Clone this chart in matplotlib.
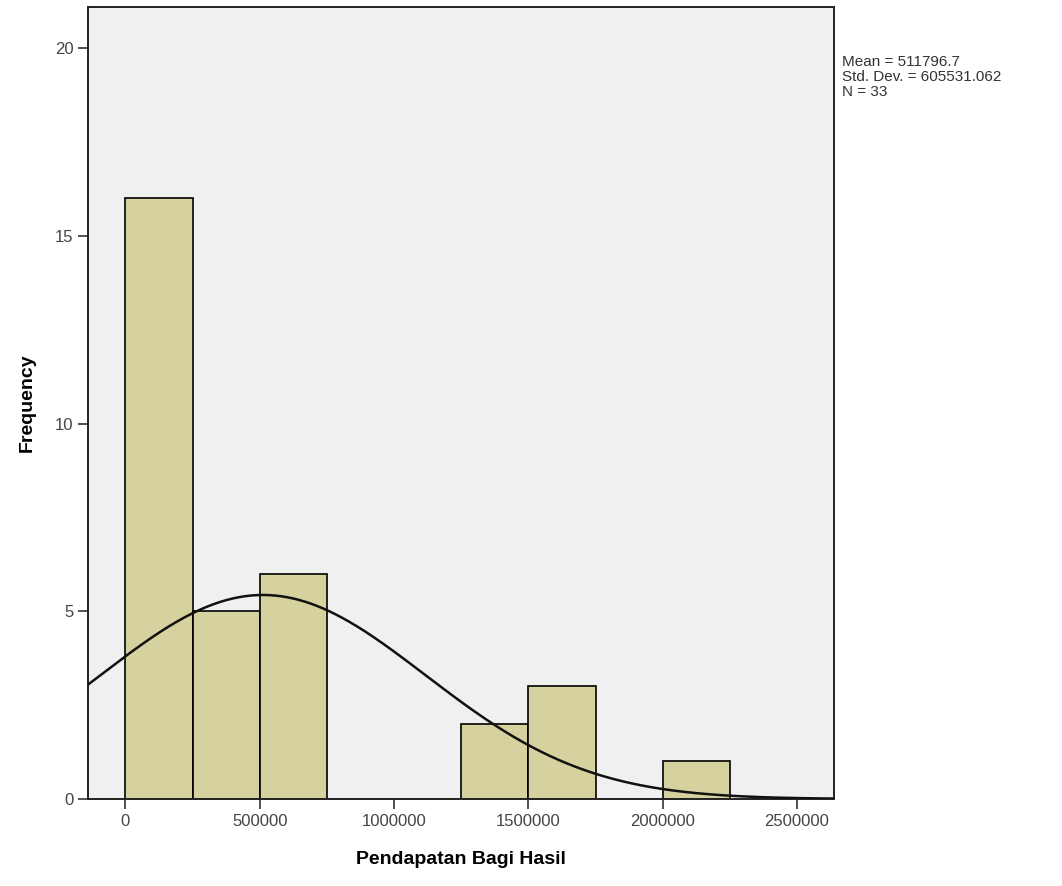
import numpy as np
import matplotlib
matplotlib.use("Agg")
import matplotlib.pyplot as plt

plt.rcParams['font.family'] = ['Liberation Sans', 'DejaVu Sans']

bin_edges = [0, 250000, 500000, 750000, 1000000, 1250000, 1500000, 1750000, 2000000, 2250000]
counts = [16, 5, 6, 0, 0, 2, 3, 0, 1]
mean = 511796.7
std = 605531.062
n = 33
xticks = [0, 500000, 1000000, 1500000, 2000000, 2500000]
yticks = [0, 5, 10, 15, 20]

fig = plt.figure(figsize=(10.62, 8.86), dpi=100)
ax = fig.add_axes([88/1062, (886-799)/886, (834-88)/1062, (799-7)/886])
ax.set_facecolor('#F0F0F0')

widths = np.diff(bin_edges)
for left, w, c in zip(bin_edges[:-1], widths, counts):
    if c > 0:
        ax.bar(left, c, width=w, align='edge', color='#D5D29F', edgecolor='black', linewidth=1.2, zorder=2)

xlim = (-139600, 2637700)
xs = np.linspace(xlim[0], xlim[1], 500)
bw = bin_edges[1] - bin_edges[0]
ys = n * bw / (std * np.sqrt(2 * np.pi)) * np.exp(-0.5 * ((xs - mean) / std) ** 2)
ax.plot(xs, ys, color='#111111', linewidth=1.8, zorder=3)

ax.set_xlim(*xlim)
ax.set_ylim(0, 21.1)
ax.set_xticks(xticks)
ax.set_xticklabels([str(t) for t in xticks])
ax.set_yticks(yticks)
ax.tick_params(axis='both', direction='out', length=7, width=1.2, color='#333333',
               labelcolor='#444444', labelsize=12)
for s in ax.spines.values():
    s.set_color('#222222')
    s.set_linewidth(1.4)

ax.set_xlabel('Pendapatan Bagi Hasil', fontsize=14, fontweight='bold', labelpad=16)
ax.set_ylabel('Frequency', fontsize=14, fontweight='bold', labelpad=14)

fig.text(842/1062, 1 - 77/886, 'Mean = 511796.7\nStd. Dev. = 605531.062\nN = 33',
         fontsize=11, color='#333333', va='center', ha='left', linespacing=1.05)

fig.savefig('out.png', dpi=100, facecolor='white')
